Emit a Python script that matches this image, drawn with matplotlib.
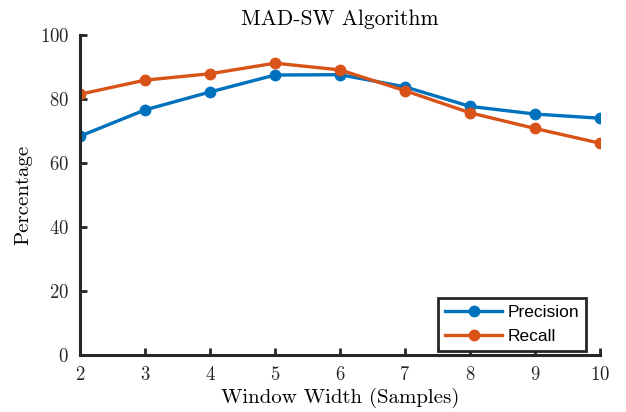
import matplotlib.pyplot as plt

plt.rcParams['font.family'] = 'serif'
plt.rcParams['font.serif'] = ['cmr10', 'DejaVu Serif']
plt.rcParams['axes.formatter.use_mathtext'] = True

window = [2, 3, 4, 5, 6, 7, 8, 9, 10]
precision = [68.4, 76.6, 82.2, 87.5, 87.6, 83.8, 77.7, 75.3, 74.0]
recall = [81.5, 85.9, 87.9, 91.2, 89.1, 82.6, 75.7, 70.8, 66.2]

fig = plt.figure(figsize=(6.26, 4.12), dpi=100)
ax = fig.add_axes([0.1278, 0.1383, 0.8307, 0.7767])

ax.plot(window, precision, '-o', color='#0072BD', lw=2.4, ms=7.5, label='Precision')
ax.plot(window, recall, '-o', color='#D95319', lw=2.4, ms=7.5, label='Recall')

ax.set_xlim(2, 10)
ax.set_ylim(0, 100)
ax.set_xticks(window)
ax.set_yticks([0, 20, 40, 60, 80, 100])

for s in ['top', 'right']:
    ax.spines[s].set_visible(False)
for s in ['left', 'bottom']:
    ax.spines[s].set_linewidth(2.2)
    ax.spines[s].set_color('#262626')
ax.tick_params(direction='in', length=5, width=2, colors='#262626', labelsize=13.5, pad=8)

ax.set_title('MAD-SW Algorithm', fontsize=15.5, pad=7)
ax.set_xlabel('Window Width (Samples)', fontsize=15, labelpad=3)
ax.set_ylabel('Percentage', fontsize=15, labelpad=5)

leg = ax.legend(loc='lower right', bbox_to_anchor=(0.973, 0.012), fancybox=False,
                framealpha=1, edgecolor='#262626', borderpad=0.4, handlelength=3.3,
                labelspacing=0.5, handletextpad=0.3, borderaxespad=0,
                prop={'family': 'Liberation Sans', 'size': 12.5})
leg.get_frame().set_linewidth(2)

fig.savefig('out.png', dpi=100)
